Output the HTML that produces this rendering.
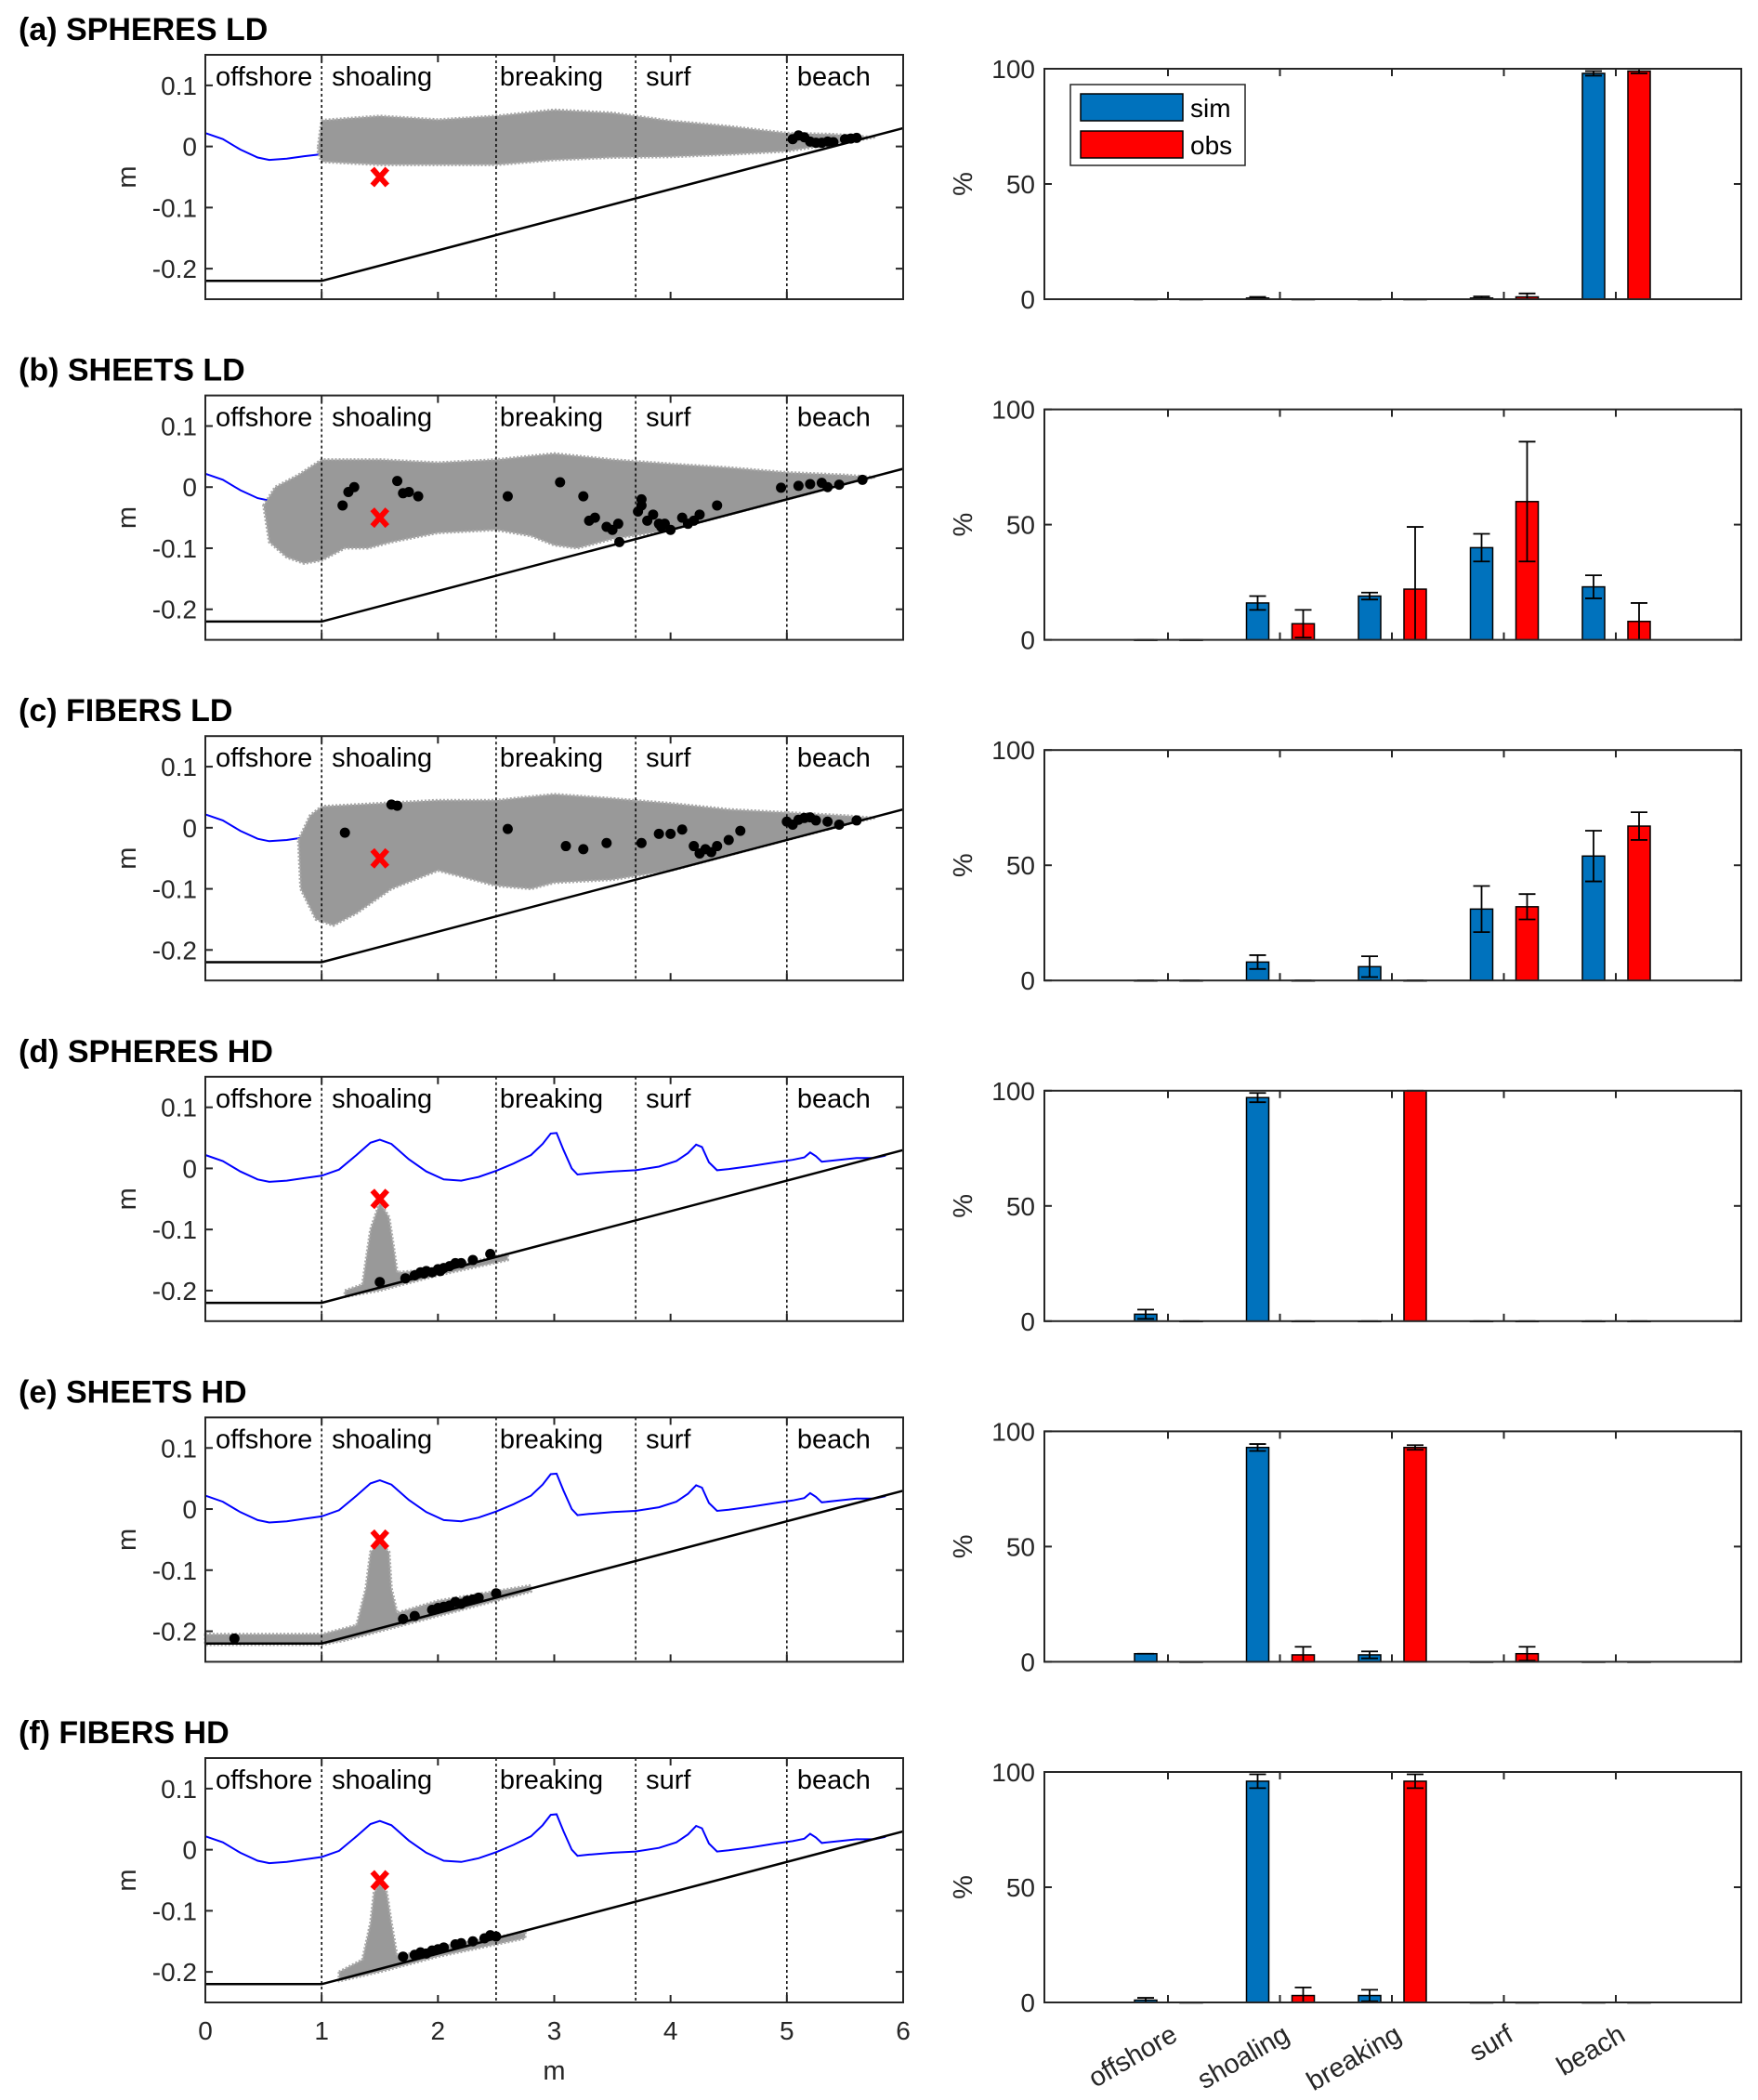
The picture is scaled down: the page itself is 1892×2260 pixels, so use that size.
<!DOCTYPE html>
<html><head><meta charset="utf-8"><style>
body{margin:0;background:#fff;}
svg{display:block;font-family:"Liberation Sans",Arial,sans-serif;}
</style></head><body>
<svg id="fig" width="1892" height="2260" viewBox="0 0 1892 2260" xmlns="http://www.w3.org/2000/svg"></svg>
<script>
// ---------- data ----------
const panelTitles = ["(a) SPHERES LD","(b) SHEETS LD","(c) FIBERS LD","(d) SPHERES HD","(e) SHEETS HD","(f) FIBERS HD"];
const zoneNames = ["offshore","shoaling","breaking","surf","beach"];
const zoneStarts = [0,1,2.5,3.7,5];
const zoneBounds = [1,2.5,3.7,5];
const xTicks = [0,1,2,3,4,5,6];
const yTicks = [-0.2,-0.1,0,0.1];
const yTickLabels = ["-0.2","-0.1","0","0.1"];
const barTicks = [0,50,100];
const bedX = [0,1,6];
const bedY = [-0.22,-0.22,0.03];
const waveX = [0,0.15,0.3,0.45,0.55,0.7,0.85,1.0,1.15,1.3,1.42,1.5,1.6,1.75,1.9,2.05,2.2,2.35,2.5,2.65,2.8,2.9,2.97,3.02,3.08,3.15,3.2,3.3,3.5,3.7,3.9,4.05,4.15,4.22,4.27,4.33,4.4,4.5,4.7,4.9,5.05,5.15,5.2,5.25,5.3,5.45,5.6,5.75,5.85];
const waveY = [0.022,0.012,-0.005,-0.018,-0.022,-0.02,-0.016,-0.012,-0.002,0.022,0.042,0.047,0.04,0.015,-0.005,-0.018,-0.02,-0.014,-0.004,0.008,0.022,0.04,0.057,0.058,0.03,0.0,-0.01,-0.008,-0.005,-0.003,0.003,0.012,0.025,0.039,0.035,0.01,-0.003,-0.001,0.004,0.01,0.014,0.018,0.026,0.02,0.011,0.014,0.017,0.017,0.021];
const waveOffX = [0,0.15,0.3,0.45,0.55,0.7,0.85,0.98];
const waveOffY = [0.022,0.012,-0.005,-0.018,-0.022,-0.02,-0.016,-0.013];
const cloudA_X = [0.97,1.0,1.5,2.0,2.5,3.0,3.5,4.0,4.5,5.0,5.4,5.75, 5.6,5.0,4.5,4.0,3.5,3.0,2.5,2.0,1.5,1.0,0.97];
const cloudA_Y = [0.0,0.043,0.05,0.044,0.05,0.06,0.055,0.042,0.033,0.022,0.02,0.015, 0.01,-0.008,-0.013,-0.017,-0.018,-0.022,-0.03,-0.03,-0.03,-0.025,-0.01];
const cloudB_X = [0.5,0.6,0.8,1.0,1.5,2.0,2.5,3.0,3.5,4.0,4.5,5.0,5.5,5.75, 5.6,5.0,4.5,4.0,3.5,3.2,3.0,2.8,2.5,2.0,1.6,1.4,1.2,1.0,0.85,0.7,0.55];
const cloudB_Y = [-0.03,0.0,0.02,0.045,0.045,0.04,0.045,0.055,0.045,0.038,0.032,0.024,0.02,0.016, 0.01,-0.02,-0.045,-0.07,-0.085,-0.1,-0.095,-0.08,-0.07,-0.075,-0.09,-0.1,-0.1,-0.12,-0.125,-0.115,-0.09];
const cloudC_X = [0.8,0.9,1.0,1.5,2.0,2.5,3.0,3.5,4.0,4.5,5.0,5.5,5.75, 5.6,5.0,4.5,4.0,3.5,3.0,2.8,2.5,2.2,2.0,1.6,1.3,1.1,0.95,0.82];
const cloudC_Y = [-0.02,0.02,0.035,0.04,0.045,0.045,0.055,0.048,0.04,0.03,0.025,0.02,0.016, 0.01,-0.02,-0.045,-0.07,-0.085,-0.09,-0.1,-0.095,-0.08,-0.07,-0.1,-0.14,-0.16,-0.15,-0.1];
const cloudD_X = [1.2,1.35,1.42,1.5,1.58,1.62,1.65,2.0,2.6,2.6,2.0,1.5,1.2];
const cloudD_Y = [-0.2,-0.19,-0.1,-0.055,-0.08,-0.13,-0.17,-0.165,-0.14,-0.15,-0.175,-0.2,-0.21];
const cloudE_X = [0.0,1.0,1.3,1.38,1.42,1.5,1.58,1.6,1.65,2.0,2.8,2.8,2.0,1.2,1.0,0.0];
const cloudE_Y = [-0.205,-0.205,-0.19,-0.13,-0.07,-0.055,-0.07,-0.13,-0.17,-0.15,-0.125,-0.135,-0.175,-0.215,-0.222,-0.222];
const cloudF_X = [1.15,1.35,1.42,1.45,1.5,1.56,1.6,1.65,2.0,2.75,2.75,2.0,1.5,1.15];
const cloudF_Y = [-0.2,-0.18,-0.12,-0.07,-0.055,-0.07,-0.12,-0.175,-0.16,-0.135,-0.145,-0.175,-0.2,-0.215];
const dotsA_X = [5.05,5.1,5.15,5.2,5.25,5.3,5.35,5.4,5.5,5.55,5.6];
const dotsA_Y = [0.012,0.018,0.015,0.008,0.006,0.006,0.008,0.007,0.012,0.013,0.014];
const dotsB_X = [1.18,1.23,1.28,1.65,1.7,1.75,1.83,2.6,3.05,3.25,3.3,3.35,3.45,3.5,3.55,3.72,3.75,3.8,3.85,3.9,3.95,4.0,4.1,4.15,4.2,4.25,4.4,3.56,3.92,4.95,5.1,5.2,5.3,5.35,5.45,5.65,3.75];
const dotsB_Y = [-0.03,-0.008,0.0,0.01,-0.01,-0.008,-0.015,-0.015,0.008,-0.015,-0.055,-0.05,-0.065,-0.07,-0.06,-0.04,-0.02,-0.055,-0.045,-0.06,-0.06,-0.07,-0.05,-0.06,-0.055,-0.045,-0.03,-0.09,-0.065,-0.001,0.002,0.005,0.007,0.0,0.004,0.012,-0.03];
const dotsC_X = [1.2,1.6,1.65,2.6,3.1,3.25,3.45,3.75,3.9,4.0,4.1,4.2,4.25,4.3,4.35,4.4,4.5,4.6,5.0,5.1,5.15,5.2,5.25,5.35,5.45,5.6,5.05];
const dotsC_Y = [-0.008,0.038,0.036,-0.002,-0.03,-0.035,-0.025,-0.025,-0.01,-0.01,-0.003,-0.03,-0.042,-0.035,-0.04,-0.03,-0.02,-0.005,0.01,0.013,0.016,0.017,0.012,0.01,0.005,0.012,0.005];
const dotsD_X = [1.5,1.72,1.8,1.85,1.9,1.95,2.0,2.05,2.1,2.15,2.2,2.3,2.45,1.88,2.02];
const dotsD_Y = [-0.186,-0.18,-0.175,-0.17,-0.168,-0.17,-0.165,-0.163,-0.16,-0.155,-0.155,-0.15,-0.14,-0.172,-0.168];
const dotsE_X = [0.25,1.7,1.8,1.95,2.0,2.1,2.15,2.2,2.25,2.3,2.35,2.5,2.05];
const dotsE_Y = [-0.212,-0.18,-0.175,-0.165,-0.162,-0.158,-0.152,-0.155,-0.15,-0.148,-0.145,-0.138,-0.16];
const dotsF_X = [1.7,1.8,1.85,1.95,2.0,2.05,2.15,2.2,2.3,2.4,2.45,2.5,1.9];
const dotsF_Y = [-0.175,-0.172,-0.168,-0.165,-0.163,-0.16,-0.155,-0.153,-0.15,-0.145,-0.14,-0.142,-0.17];
const releaseX = 1.5, releaseY = -0.05;
const simVals = [[0,0.5,0,0.5,98],[0,16,19,40,23],[0,8,6,31,54],[3,97,0,0,0],[3.5,93,3,0,0],[1,96,3,0,0]];
const simErrs = [[0,0.5,0,0.7,1],[0,3,1.5,6,5],[0,3,4.5,10,11],[2,2,0,0,0],[0,1.5,1.5,0,0],[1,3,2.5,0,0]];
const obsVals = [[0,0,0,1,99],[0,7,22,60,8],[0,0,0,32,67],[0,0,100,0,0],[0,3,93,3.5,0],[0,3,96,0,0]];
const obsErrs = [[0,0,0,1.5,1],[0,6,27,26,8],[0,0,0,5.5,6],[0,0,0,0,0],[0,3.5,1,3,0],[0,3.5,3,0,0]];

// ---------- layout ----------
const NS="http://www.w3.org/2000/svg";
const svg=document.getElementById('fig');
function mk(tag,attrs,parent){const e=document.createElementNS(NS,tag);for(const k in attrs)e.setAttribute(k,attrs[k]);(parent||svg).appendChild(e);return e;}
const L0=221,L1=972, dy=366.6;
const B0=1124,B1=1874;
function lx(x){return L0+(x/6)*(L1-L0);}
function ly(y,p){const top=59+p*dy, bot=322+p*dy;return bot-(y+0.25)/0.40*(bot-top);}
function bx(i){return 1257+i*120.5;}
function by(v,p){const top=74+p*dy, bot=322+p*dy;return bot-v/100*(bot-top);}
function pathFrom(xs,ys,p,close){let d='';for(let i=0;i<xs.length;i++){d+=(i?'L':'M')+lx(xs[i]).toFixed(1)+','+ly(ys[i],p).toFixed(1);}return d+(close?'Z':'');}

const clouds=[[cloudA_X,cloudA_Y],[cloudB_X,cloudB_Y],[cloudC_X,cloudC_Y],[cloudD_X,cloudD_Y],[cloudE_X,cloudE_Y],[cloudF_X,cloudF_Y]];
const dots=[[dotsA_X,dotsA_Y],[dotsB_X,dotsB_Y],[dotsC_X,dotsC_Y],[dotsD_X,dotsD_Y],[dotsE_X,dotsE_Y],[dotsF_X,dotsF_Y]];

for(let p=0;p<6;p++){
  const g=mk('g',{});
  
  
  const t=mk('text',{x:20,y:43+p*dy,'font-size':34,'font-weight':'bold',fill:'#000'},g);
  t.textContent=panelTitles[p];
  
  
  const top=59+p*dy, bot=322+p*dy;
  const lg=mk('g',{},g);
  
  
  mk('rect',{x:L0,y:top,width:L1-L0,height:bot-top,fill:'#fff',stroke:'none'},lg);
  const wv = p<3 ? mk('path',{d:pathFrom(waveOffX,waveOffY,p),fill:'none',stroke:'#0000ff','stroke-width':2},lg)
                 : mk('path',{d:pathFrom(waveX,waveY,p),fill:'none',stroke:'#0000ff','stroke-width':2},lg);
  
  
  const cl=mk('path',{d:pathFrom(clouds[p][0],clouds[p][1],p,true),fill:'#999999',stroke:'#a8a8a8','stroke-width':3,'stroke-dasharray':'2 2','stroke-linejoin':'round'},lg);
  
  
  zoneBounds.forEach(z=>{const l=mk('line',{x1:lx(z),x2:lx(z),y1:top,y2:bot,stroke:'#000','stroke-width':1.5,'stroke-dasharray':'3 3'},lg);
    
    });
  const bd=mk('path',{d:pathFrom(bedX,bedY,p),fill:'none',stroke:'#000','stroke-width':2.5},lg);
  
  
  dots[p][0].forEach((x,i)=>{const c=mk('circle',{cx:lx(x),cy:ly(dots[p][1][i],p),r:5.5,fill:'#000'},lg);
    
    });
  const rx=lx(releaseX), ry=ly(releaseY,p);
  const xg=mk('path',{d:`M${rx-8},${ry-9}L${rx+8},${ry+9}M${rx+8},${ry-9}L${rx-8},${ry+9}`,stroke:'#ff0000','stroke-width':6},lg);
  
  
  zoneNames.forEach((n,i)=>{const zt=mk('text',{x:lx(zoneStarts[i])+(i==2?4:11),y:top+33,'font-size':29,fill:'#000'},lg);zt.textContent=n;
    
    });
  mk('rect',{x:L0,y:top,width:L1-L0,height:bot-top,fill:'none',stroke:'#262626','stroke-width':2},lg);
  xTicks.forEach(x=>{mk('line',{x1:lx(x),x2:lx(x),y1:bot,y2:bot-8,stroke:'#262626','stroke-width':2},lg);mk('line',{x1:lx(x),x2:lx(x),y1:top,y2:top+8,stroke:'#262626','stroke-width':2},lg);
    if(p==5){const xl=mk('text',{x:lx(x),y:bot+40,'font-size':28,'text-anchor':'middle',fill:'#262626'},lg);xl.textContent=x;
      
      }});
  yTicks.forEach((y,i)=>{mk('line',{x1:L0,x2:L0+8,y1:ly(y,p),y2:ly(y,p),stroke:'#262626','stroke-width':2},lg);mk('line',{x1:L1,x2:L1-8,y1:ly(y,p),y2:ly(y,p),stroke:'#262626','stroke-width':2},lg);
    const yl=mk('text',{x:212,y:ly(y,p)+10,'font-size':28,'text-anchor':'end',fill:'#262626'},lg);yl.textContent=yTickLabels[i];
    
    });
  const ym=mk('text',{x:0,y:0,'font-size':29,'text-anchor':'middle',fill:'#262626',transform:`translate(146,${(top+bot)/2}) rotate(-90)`},lg);ym.textContent='m';
  
  
  if(p==5){const xm=mk('text',{x:lx(3),y:bot+83,'font-size':29,'text-anchor':'middle',fill:'#262626'},lg);xm.textContent='m';
    
    }

  const bt=74+p*dy, bb=322+p*dy;
  const bg=mk('g',{},g);
  
  
  for(let i=0;i<5;i++){
    [[simVals,simErrs,'#0072bd',-24,'sim'],[obsVals,obsErrs,'#ff0000',25,'obs']].forEach(([V,E,col,off,nm])=>{
      const v=V[p][i], e=E[p][i], cx=bx(i)+off;
      const r=mk('rect',{x:cx-12,y:by(v,p),width:24,height:Math.max(0.5,bb-by(v,p)),fill:col,stroke:'#000','stroke-width':1.5},bg);
      
      
      const y1=by(Math.min(100,v+e),p), y2=by(Math.max(0,v-e),p);
      const eb=mk('path',{d:`M${cx},${y1}L${cx},${y2}M${cx-9},${y1}L${cx+9},${y1}M${cx-9},${y2}L${cx+9},${y2}`,stroke:'#000','stroke-width':1.8,fill:'none'},bg);
      
      
    });
    mk('line',{x1:bx(i),x2:bx(i),y1:bb,y2:bb-8,stroke:'#262626','stroke-width':2},bg);
    mk('line',{x1:bx(i),x2:bx(i),y1:bt,y2:bt+8,stroke:'#262626','stroke-width':2},bg);
    if(p==5){const cl2=mk('text',{x:0,y:0,'font-size':29,'text-anchor':'end',fill:'#262626',transform:`translate(${bx(i)+12},${bb+40}) rotate(-30)`},bg);cl2.textContent=zoneNames[i];
      
      }
  }
  mk('rect',{x:B0,y:bt,width:B1-B0,height:bb-bt,fill:'none',stroke:'#262626','stroke-width':2},bg);
  barTicks.forEach(v=>{mk('line',{x1:B0,x2:B0+8,y1:by(v,p),y2:by(v,p),stroke:'#262626','stroke-width':2},bg);mk('line',{x1:B1,x2:B1-8,y1:by(v,p),y2:by(v,p),stroke:'#262626','stroke-width':2},bg);
    const tl=mk('text',{x:1114,y:by(v,p)+10,'font-size':28,'text-anchor':'end',fill:'#262626'},bg);tl.textContent=v;
    
    });
  const pc=mk('text',{x:0,y:0,'font-size':29,'text-anchor':'middle',fill:'#262626',transform:`translate(1046,${(bt+bb)/2}) rotate(-90)`},bg);pc.textContent='%';
  
  
  if(p==0){
    const lgd=mk('g',{},bg);
    
    
    mk('rect',{x:1152,y:91,width:188,height:87,fill:'#fff',stroke:'#262626','stroke-width':1.5},lgd);
    mk('rect',{x:1163,y:101,width:110,height:29,fill:'#0072bd',stroke:'#000','stroke-width':1.5},lgd);
    mk('rect',{x:1163,y:141,width:110,height:29,fill:'#ff0000',stroke:'#000','stroke-width':1.5},lgd);
    const s1=mk('text',{x:1281,y:126,'font-size':28,fill:'#000'},lgd);s1.textContent='sim';
    
    
    const s2=mk('text',{x:1281,y:166,'font-size':28,fill:'#000'},lgd);s2.textContent='obs';
    
    
  }
}
</script>
</body></html>
